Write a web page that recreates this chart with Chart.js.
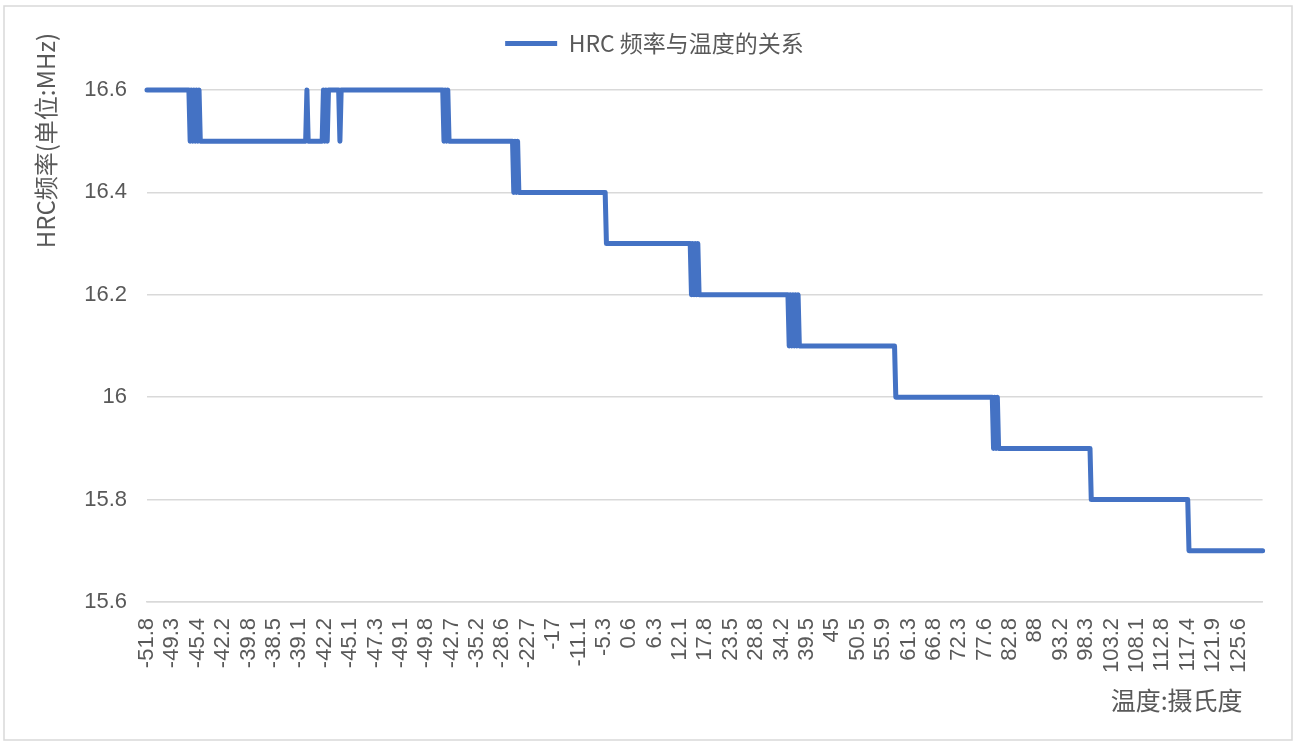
<!DOCTYPE html>
<html>
<head>
<meta charset="utf-8">
<script src="https://cdn.jsdelivr.net/npm/chart.js@4.4.1/dist/chart.umd.min.js"></script>
<style>
  html, body { margin: 0; padding: 0; background: #fff; }
</style>
</head>
<body>
<canvas id="hrcCanvas" width="1297" height="742"></canvas>
<script>
// temperatures printed under the axis (one label every 20 samples)
const tempLabels = ["-51.8", "-49.3", "-45.4", "-42.2", "-39.8", "-38.5", "-39.1", "-42.2",
    "-45.1", "-47.3", "-49.1", "-49.8", "-42.7", "-35.2", "-28.6", "-22.7", "-17", "-11.1",
    "-5.3", "0.6", "6.3", "12.1", "17.8", "23.5", "28.8", "34.2", "39.5", "45", "50.5",
    "55.9", "61.3", "66.8", "72.3", "77.6", "82.8", "88", "93.2", "98.3", "103.2", "108.1",
    "112.8", "117.4", "121.9", "125.6"];
const samplesPerLabel = 20;

// HRC frequency, as [value, number of samples]
// (the thick vertical bands are spots where the reading flickers between two steps)
const freqRuns = [
    [16.6, 34],
    [16.5, 1], [16.6, 1], [16.5, 1], [16.6, 1], [16.5, 1], [16.6, 1], [16.5, 1], [16.6, 1],
    [16.5, 84], [16.6, 1], [16.5, 12],
    [16.6, 1], [16.5, 1], [16.6, 1], [16.5, 1],
    [16.6, 9], [16.5, 1], [16.6, 81],
    [16.5, 1], [16.6, 1], [16.5, 1], [16.6, 1],
    [16.5, 51],
    [16.4, 1], [16.5, 1], [16.4, 1], [16.5, 1],
    [16.4, 69],
    [16.3, 67],
    [16.2, 1], [16.3, 1], [16.2, 1], [16.3, 1], [16.2, 1], [16.3, 1],
    [16.2, 71],
    [16.1, 1], [16.2, 1], [16.1, 1], [16.2, 1], [16.1, 1], [16.2, 1], [16.1, 1], [16.2, 1],
    [16.1, 76],
    [16.0, 77],
    [15.9, 1], [16.0, 1], [15.9, 1], [16.0, 1],
    [15.9, 73],
    [15.8, 77],
    [15.7, 59]
];

const yTicks = [15.6, 15.8, 16, 16.2, 16.4, 16.6];

const seriesName = "HRC 频率与温度的关系";
const xTitle = "温度:摄氏度";
const yTitle = "HRC频率(单位:MHz)";

// expand the runs into one value per sample
const freqValues = [];
freqRuns.forEach(function (run) {
    for (let i = 0; i < run[1]; i++) freqValues.push(run[0]);
});
const categories = freqValues.map(function (v, i) {
    if (i % samplesPerLabel !== 0) return "";
    const lbl = tempLabels[i / samplesPerLabel];
    return lbl === undefined ? "" : lbl;
});

const numFont = "'Liberation Sans', 'Noto Sans CJK SC', sans-serif";
const cjkFont = "'Noto Sans CJK SC', 'Liberation Sans', sans-serif";
const textColor = "#595959";
const gridColor = "#D9D9D9";

// white background, outer frame and the two axis titles
const frameAndTitles = {
    id: "frameAndTitles",
    beforeDraw(chart) {
        const ctx = chart.ctx;
        ctx.save();
        ctx.fillStyle = "#ffffff";
        ctx.fillRect(0, 0, chart.width, chart.height);
        ctx.strokeStyle = gridColor;
        ctx.lineWidth = 1.5;
        ctx.strokeRect(4, 6, chart.width - 9, chart.height - 8);
        ctx.restore();
    },
    afterDraw(chart) {
        const ctx = chart.ctx;
        const area = chart.chartArea;
        ctx.save();
        ctx.fillStyle = textColor;
        ctx.textBaseline = "middle";

        ctx.font = "25px " + cjkFont;
        ctx.textAlign = "right";
        ctx.fillText(xTitle, area.right - 20, 700);

        ctx.font = "24px " + cjkFont;
        ctx.translate(46, 33);
        ctx.rotate(-Math.PI / 2);
        ctx.textAlign = "right";
        ctx.fillText(yTitle, 0, 0);
        ctx.restore();
    }
};

const hrcChart = new Chart(document.getElementById("hrcCanvas"), {
    type: "line",
    data: {
        labels: categories,
        datasets: [
            {
                label: seriesName,
                data: freqValues,
                borderColor: "#4472C4",
                backgroundColor: "#4472C4",
                borderWidth: 5,
                borderCapStyle: "round",
                borderJoinStyle: "round",
                pointRadius: 0,
                pointHoverRadius: 0,
                tension: 0,
                fill: false,
                clip: false
            }
        ]
    },
    options: {
        responsive: false,
        animation: false,
        layout: {
            padding: { left: 22, right: 10, top: 22, bottom: 0 }
        },
        plugins: {
            legend: {
                position: "top",
                labels: {
                    usePointStyle: true,
                    pointStyle: "line",
                    pointStyleWidth: 52,
                    color: textColor,
                    padding: 10,
                    font: { family: cjkFont, size: 23 }
                }
            },
            // empty box that keeps the gap between the legend and the plot
            title: {
                display: true,
                text: "",
                weight: 500,
                padding: 0,
                font: { size: 10, lineHeight: "25px" }
            },
            tooltip: { enabled: false }
        },
        scales: {
            x: {
                offset: false,
                grid: { display: false },
                border: { display: true, color: gridColor, width: 1.5 },
                ticks: {
                    autoSkip: false,
                    minRotation: 90,
                    maxRotation: 90,
                    padding: 8,
                    color: textColor,
                    font: { family: numFont, size: 22 }
                },
                afterFit(scale) { scale.height = 140; }
            },
            y: {
                min: 15.6,
                max: 16.6,
                afterBuildTicks(scale) {
                    scale.ticks = yTicks.map(function (v) { return { value: v }; });
                },
                grid: { color: gridColor, lineWidth: 1.5, drawTicks: false },
                border: { display: false },
                ticks: {
                    padding: 20,
                    color: textColor,
                    font: { family: numFont, size: 22 },
                    callback: function (v) { return String(Number(v.toFixed(1))); }
                },
                afterFit(scale) { scale.width = 125; }
            },
            yRight: {
                position: "right",
                display: true,
                grid: { display: false },
                border: { display: false },
                ticks: { display: false },
                afterFit(scale) { scale.width = 22; }
            }
        }
    },
    plugins: [frameAndTitles]
});
</script>
</body>
</html>
